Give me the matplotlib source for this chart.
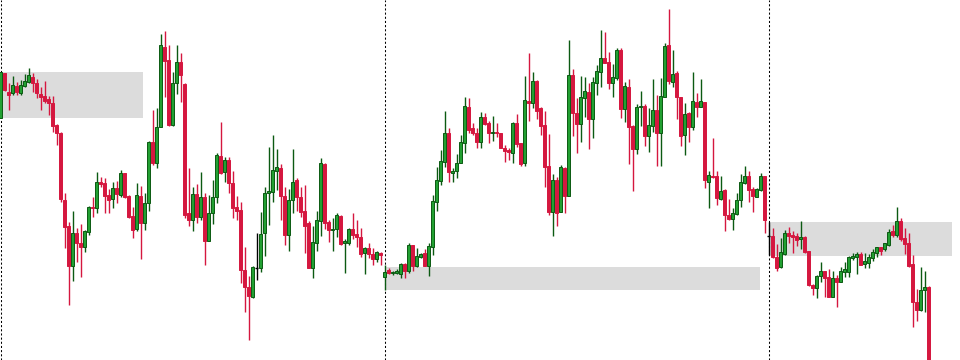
import matplotlib
matplotlib.use("Agg")
import matplotlib.pyplot as plt
import numpy as np

# OHLC prices (points) for each bar, oldest first
opens = [
    725, 860, 805, 800, 822, 802, 822, 835, 848, 830,
    798, 792, 782, 770, 705, 682, 480, 402, 282, 382,
    352, 340, 385, 460, 455, 535, 532, 495, 482, 515,
    495, 560, 492, 432, 392, 492, 412, 470, 655, 592,
    698, 940, 900, 705, 830, 895, 828, 440, 420, 498,
    428, 490, 358, 442, 488, 612, 565, 600, 532, 458,
    450, 270, 218, 190, 276, 275, 380, 500, 505, 568,
    575, 492, 375, 480, 540, 490, 448, 412, 275, 352,
    418, 588, 415, 390, 392, 432, 350, 352, 392, 378,
    368, 320, 335, 318, 302, 322, 248, 270, 260, 262,
    258, 288, 268, 345, 282, 308, 320, 282, 340, 475,
    538, 595, 680, 562, 568, 592, 652, 760, 695, 680,
    655, 728, 712, 680, 684, 680, 635, 630, 622, 710,
    650, 592, 778, 772, 838, 755, 705, 582, 445, 540,
    445, 575, 492, 855, 740, 708, 785, 805, 722, 830,
    865, 905, 895, 830, 845, 930, 752, 818, 702, 632,
    758, 762, 672, 702, 750, 682, 790, 945, 835, 862,
    788, 675, 740, 698, 775, 760, 775, 535, 552, 552,
    482, 510, 435, 422, 438, 480, 532, 552, 512, 490,
    510, 552, 372, 372, 308, 278, 318, 382, 375, 372,
    362, 370, 328, 225, 215, 252, 268, 248, 190, 245,
    235, 265, 265, 305, 308, 318, 288, 292, 305, 320,
    338, 332, 345, 388, 375, 418, 365, 350, 288, 175,
    150, 210, 220,
]
highs = [
    865, 862, 830, 852, 835, 840, 858, 875, 862, 842,
    818, 838, 792, 792, 708, 685, 502, 415, 448, 395,
    408, 390, 462, 490, 565, 550, 545, 512, 535, 538,
    570, 562, 495, 460, 532, 522, 502, 658, 750, 755,
    978, 988, 945, 865, 945, 922, 830, 575, 520, 528,
    565, 502, 495, 540, 622, 715, 610, 608, 568, 492,
    475, 340, 252, 282, 380, 445, 518, 640, 675, 632,
    588, 518, 512, 632, 545, 520, 525, 418, 402, 448,
    605, 590, 420, 425, 440, 435, 362, 395, 440, 420,
    395, 338, 350, 335, 328, 325, 285, 275, 268, 272,
    292, 290, 352, 345, 335, 322, 332, 352, 495, 580,
    630, 748, 695, 575, 618, 675, 788, 785, 710, 695,
    745, 742, 718, 732, 712, 682, 645, 635, 715, 738,
    652, 852, 922, 865, 840, 760, 748, 678, 558, 550,
    585, 580, 960, 872, 785, 852, 848, 830, 848, 885,
    990, 985, 925, 888, 935, 935, 835, 842, 705, 768,
    808, 768, 755, 842, 795, 845, 952, 1052, 930, 868,
    790, 772, 745, 865, 802, 842, 775, 568, 665, 568,
    552, 512, 482, 455, 500, 558, 582, 568, 520, 515,
    562, 552, 415, 395, 348, 365, 390, 400, 388, 380,
    418, 372, 328, 228, 255, 295, 268, 272, 268, 255,
    280, 295, 312, 322, 325, 325, 322, 318, 332, 340,
    340, 352, 392, 405, 460, 425, 395, 382, 315, 212,
    280, 268, 222,
]
lows = [
    725, 808, 750, 795, 795, 795, 820, 830, 805, 785,
    750, 770, 735, 685, 645, 475, 335, 165, 238, 295,
    250, 325, 375, 430, 442, 518, 440, 440, 455, 472,
    490, 485, 425, 365, 388, 302, 390, 448, 585, 575,
    698, 788, 702, 702, 798, 775, 425, 402, 388, 412,
    420, 285, 358, 408, 472, 558, 535, 500, 425, 420,
    230, 145, 60, 185, 240, 265, 312, 405, 475, 510,
    420, 345, 328, 442, 448, 430, 322, 275, 245, 328,
    372, 392, 355, 328, 370, 345, 260, 345, 362, 340,
    310, 258, 305, 285, 295, 285, 210, 258, 255, 258,
    245, 245, 260, 268, 280, 305, 282, 252, 315, 448,
    525, 580, 535, 535, 545, 592, 622, 680, 675, 635,
    635, 705, 652, 658, 668, 635, 595, 600, 592, 640,
    582, 582, 718, 755, 722, 675, 518, 435, 372, 402,
    445, 442, 492, 672, 622, 655, 728, 632, 665, 795,
    820, 890, 812, 788, 840, 725, 715, 588, 508, 618,
    702, 642, 625, 685, 582, 582, 788, 828, 820, 722,
    642, 615, 655, 690, 730, 760, 515, 455, 545, 465,
    480, 388, 420, 390, 435, 458, 528, 475, 445, 490,
    508, 380, 315, 305, 268, 275, 315, 352, 322, 342,
    332, 322, 222, 195, 185, 235, 190, 190, 188, 158,
    235, 250, 248, 300, 258, 285, 275, 275, 298, 310,
    315, 328, 342, 370, 368, 358, 318, 278, 100, 118,
    148, 145, -20,
]
closes = [
    865, 810, 795, 825, 805, 825, 838, 855, 830, 800,
    790, 778, 770, 702, 680, 482, 400, 282, 380, 350,
    340, 388, 460, 455, 535, 528, 492, 480, 515, 498,
    562, 490, 430, 390, 495, 412, 470, 655, 592, 698,
    945, 898, 705, 830, 895, 855, 435, 420, 498, 430,
    490, 358, 442, 490, 615, 562, 600, 530, 455, 448,
    270, 218, 192, 278, 276, 378, 502, 508, 570, 580,
    492, 375, 480, 535, 490, 445, 402, 275, 355, 420,
    592, 412, 390, 394, 435, 348, 358, 392, 375, 368,
    318, 335, 318, 302, 323, 315, 265, 260, 264, 268,
    288, 268, 345, 282, 312, 318, 282, 342, 478, 540,
    597, 682, 565, 568, 592, 655, 762, 690, 682, 655,
    728, 708, 680, 685, 680, 635, 628, 625, 712, 648,
    588, 780, 772, 838, 748, 702, 580, 445, 540, 442,
    580, 492, 855, 740, 708, 788, 808, 722, 835, 868,
    905, 892, 832, 848, 930, 752, 822, 698, 632, 758,
    762, 672, 705, 750, 682, 792, 942, 838, 858, 790,
    672, 738, 698, 778, 760, 778, 540, 555, 548, 485,
    508, 435, 422, 440, 480, 535, 552, 510, 492, 512,
    552, 420, 372, 308, 275, 325, 382, 372, 368, 360,
    368, 325, 225, 215, 252, 268, 245, 190, 245, 235,
    268, 272, 310, 312, 318, 285, 298, 308, 325, 338,
    328, 350, 385, 375, 418, 362, 348, 282, 175, 150,
    210, 220, -20,
]

# Supply / demand zones: first bar, last bar, lower price, upper price
zone_start = [0, 96, 192]
zone_end = [35.5, 189.9, 237.9]
zone_low = [726, 210, 312]
zone_high = [864, 279, 414]

# Bars where a new session begins
session_breaks = [0, 96, 192]

UP_FILL = "#22a032"
UP_EDGE = "#0b5a12"
DOWN_FILL = "#d5173f"
DOWN_EDGE = "#d5173f"
ZONE = "#dcdcdc"

o = np.array(opens, float)
h = np.array(highs, float)
l = np.array(lows, float)
c = np.array(closes, float)
x = np.arange(len(o))

fig = plt.figure(figsize=(9.6, 3.6), dpi=100)
ax = fig.add_axes([0, 0, 1, 1])
ax.set_xlim(-0.15, 239.85)
ax.set_ylim(0, 1080)
ax.axis("off")

for s, e, lo, hi in zip(zone_start, zone_end, zone_low, zone_high):
    ax.fill_between([s, e], lo, hi, color=ZONE, lw=0, zorder=0)

for b in session_breaks:
    ax.axvline(b, color="black", lw=0.75, ls=(0, (2, 2)), zorder=1)

up = c > o
dn = c < o
flat = c == o
bw = 0.75

ax.vlines(x[up], l[up], h[up], color=UP_EDGE, lw=1.0, zorder=2)
ax.bar(x[up], c[up] - o[up], bottom=o[up], width=bw, color=UP_FILL,
       edgecolor=UP_EDGE, linewidth=0.7, zorder=3)

ax.vlines(x[dn], l[dn], h[dn], color=DOWN_EDGE, lw=1.0, zorder=2)
ax.bar(x[dn], o[dn] - c[dn], bottom=c[dn], width=bw, color=DOWN_FILL,
       edgecolor=DOWN_EDGE, linewidth=0.7, zorder=3)

ax.vlines(x[flat], l[flat], h[flat], color="black", lw=1.0, zorder=2)
ax.hlines(o[flat], x[flat] - bw / 2, x[flat] + bw / 2, color="black",
          lw=1.0, zorder=3)

fig.savefig("out.png", dpi=100, facecolor="white")
